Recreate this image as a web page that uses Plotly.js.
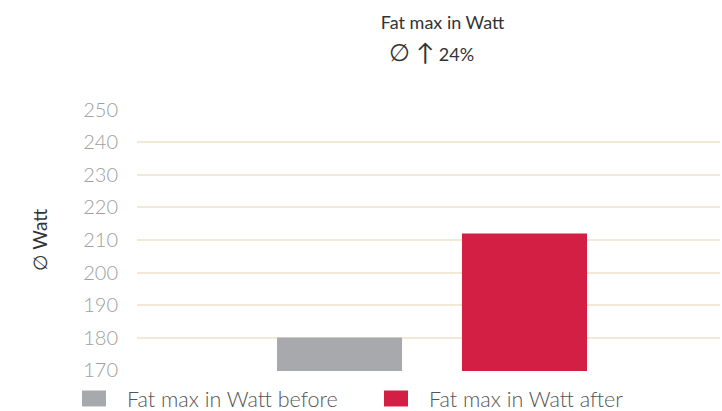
<!DOCTYPE html>
<html>
<head>
<meta charset="utf-8">
<script src="https://cdn.plot.ly/plotly-3.0.1.min.js"></script>
<style>html,body{margin:0;padding:0;background:#fff;}#chart{width:722px;height:411px;}</style>
</head>
<body>
<div id="chart"></div>
<script>
const seriesNames = ["Fat max in Watt before", "Fat max in Watt after"];
const seriesValues = [180, 212];
const seriesColors = ["#a8a9ad", "#d31f44"];
const positions = [0, 1];
const yTicks = [170, 180, 190, 200, 210, 220, 230, 240, 250];
const titleLine1 = "Fat max in Watt";
const titleLine2 = "<span style='font-size:24px'>∅ ↑</span> 24%";
const yTitle = "∅ Watt";

const font = "Lato, Open Sans, sans-serif";

const traces = seriesNames.map((name, i) => ({
  type: "bar",
  name: name,
  x: [positions[i]],
  y: [seriesValues[i] - 169.7],
  base: 169.7,
  width: 0.676,
  marker: {color: seriesColors[i]},
  hoverinfo: "skip"
}));

const layout = {
  width: 722, height: 411,
  margin: {l: 137, r: 2, t: 109, b: 40, autoexpand: false},
  paper_bgcolor: "#fff", plot_bgcolor: "#fff",
  barmode: "overlay",
  showlegend: true,
  title: {text: titleLine1, x: 0.613, xanchor: "center", y: 0.945, yanchor: "middle",
          font: {family: font, size: 18, color: "#333"}},
  annotations: [{text: titleLine2, xref: "paper", yref: "paper", x: 0.505, y: 1.22, xanchor: "center", yanchor: "middle",
                 showarrow: false, font: {family: font, size: 18, color: "#333"}}],
  xaxis: {range: [-1.095, 2.057], showgrid: false, zeroline: false, showticklabels: false, showline: false, fixedrange: true},
  yaxis: {range: [169.7, 250.3], tickvals: yTicks, ticktext: yTicks.map(String),
          showgrid: true, gridcolor: "#f4e8d8", gridwidth: 2, zeroline: false, showline: false,
          ticks: "", ticklabelstandoff: 18,
          tickfont: {family: font, size: 20, color: "#a0a0a0", weight: 300},
          title: {text: yTitle, standoff: 30, font: {family: font, size: 19, color: "#333"}}},
  legend: {orientation: "h", x: 0.0956, xref: "container", xanchor: "left", y: 0, yref: "container", yanchor: "bottom",
           bgcolor: "rgba(0,0,0,0)",
           font: {family: font, size: 21.5, color: "#555", weight: 300}, itemwidth: 40, entrywidth: 236, tracegroupgap: 0,
           traceorder: "normal"}
};

Plotly.newPlot("chart", traces, layout, {displayModeBar: false, staticPlot: true}).then(gd => {
  gd.querySelectorAll(".legendpoints path").forEach(p => {
    const t = p.getAttribute("transform") || "";
    p.setAttribute("transform", t + " scale(2,1.33)");
  });
  gd.querySelectorAll(".legendtext").forEach(t => {
    const x = parseFloat(t.getAttribute("x") || "0");
    t.setAttribute("x", x + 8);
  });
  const items = gd.querySelectorAll(".legend .traces");
  if (items.length > 1) {
    const tr = items[1].getAttribute("transform") || "";
    const m = tr.match(/translate\(([-\d.]+)[ ,]+([-\d.]+)\)/);
    if (m) items[1].setAttribute("transform", "translate(" + (parseFloat(m[1]) + 11) + "," + m[2] + ")");
  }
  const leg = gd.querySelector("g.legend");
  if (leg) {
    const tr = leg.getAttribute("transform") || "";
    const m = tr.match(/translate\(([-\d.]+)[ ,]+([-\d.]+)\)/);
    if (m) leg.setAttribute("transform", "translate(" + m[1] + "," + (parseFloat(m[2]) + 8) + ")");
  }
});
</script>
</body>
</html>
